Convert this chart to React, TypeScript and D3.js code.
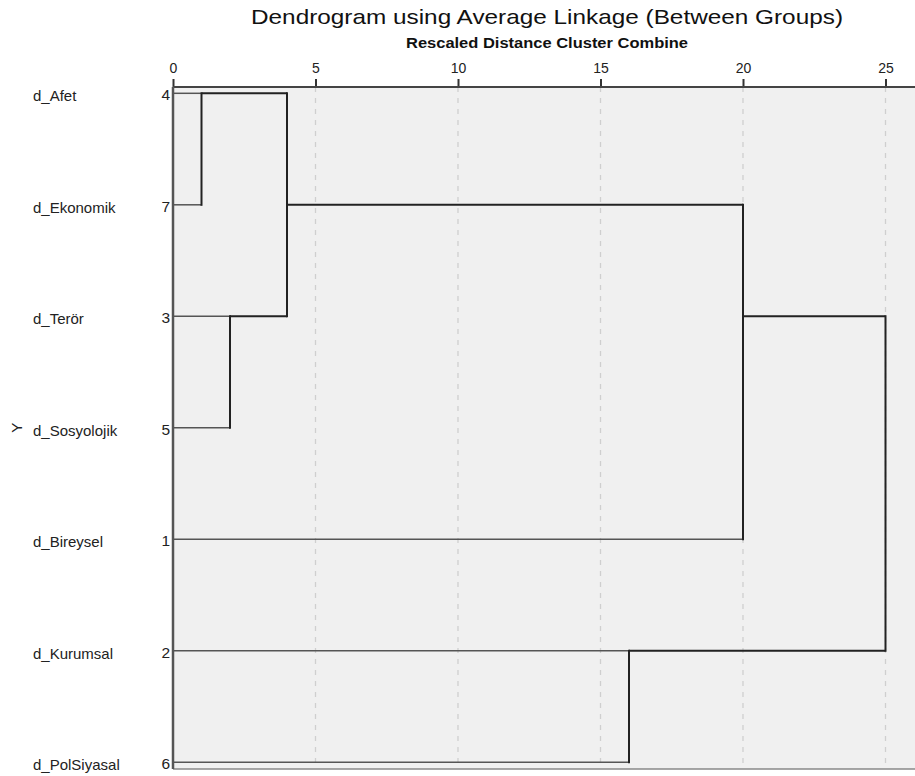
import React, { useEffect, useRef } from "react";
import * as d3 from "d3";

// leaves, top to bottom as SPSS draws them
const leafNames = ["d_Afet", "d_Ekonomik", "d_Terör", "d_Sosyolojik", "d_Bireysel", "d_Kurumsal", "d_PolSiyasal"];
const caseNumbers = [4, 7, 3, 5, 1, 2, 6];

// agglomeration steps: ids 0-6 are leaves, step i creates node 7 + i
const mergeLeft = [0, 2, 7, 5, 9, 11];
const mergeRight = [1, 3, 8, 6, 4, 10];
const mergeDistance = [1, 2, 4, 16, 20, 25];

const tickValues = [0, 5, 10, 15, 20, 25];

const App: React.FC = () => {
  const svgRef = useRef<SVGSVGElement | null>(null);

  useEffect(() => {
    if (!svgRef.current) return;
    const svg = d3.select(svgRef.current);
    svg.selectAll("*").remove();

    const width = 915;
    const height = 776;
    const plot = { left: 173, top: 87, right: 915, bottom: 769 };
    const font = "Arial, 'Liberation Sans', sans-serif";

    svg.attr("width", width).attr("height", height);

    const x = d3.scaleLinear().domain([0, 25]).range([173, 885.5]);
    const y = d3.scaleLinear().domain([0, leafNames.length - 1]).range([93.3, 762.3]);

    svg.append("rect").attr("width", width).attr("height", height).attr("fill", "#fff");

    svg
      .append("rect")
      .attr("x", plot.left)
      .attr("y", plot.top)
      .attr("width", plot.right - plot.left)
      .attr("height", plot.bottom - plot.top)
      .attr("fill", "#f0f0f0");

    // dashed grid
    svg
      .append("g")
      .selectAll("line")
      .data(tickValues.filter((d) => d > 0))
      .enter()
      .append("line")
      .attr("x1", (d) => x(d))
      .attr("x2", (d) => x(d))
      .attr("y1", plot.top)
      .attr("y2", plot.bottom)
      .attr("stroke", "#cfcfcf")
      .attr("stroke-width", 1.3)
      .attr("stroke-dasharray", "5,6");

    // top axis
    const axis = svg
      .append("g")
      .attr("transform", `translate(0,${plot.top})`)
      .call(d3.axisTop(x).tickValues(tickValues).tickSize(8).tickPadding(6));
    axis.select(".domain").remove();
    axis.selectAll(".tick line").attr("stroke", "#333").attr("stroke-width", 2);
    axis
      .selectAll(".tick text")
      .attr("font-family", font)
      .attr("font-size", 14)
      .attr("fill", "#222");

    svg
      .append("line")
      .attr("x1", plot.left)
      .attr("x2", plot.right)
      .attr("y1", plot.top)
      .attr("y2", plot.top)
      .attr("stroke", "#444")
      .attr("stroke-width", 2);
    svg
      .append("line")
      .attr("x1", plot.left)
      .attr("x2", plot.right)
      .attr("y1", plot.bottom)
      .attr("y2", plot.bottom)
      .attr("stroke", "#888")
      .attr("stroke-width", 1.5);

    // node rows and heights
    const row: number[] = leafNames.map((_, i) => i);
    const dist: number[] = leafNames.map(() => 0);
    mergeLeft.forEach((a, i) => {
      const b = mergeRight[i];
      row.push(Math.floor((row[a] + row[b]) / 2));
      dist.push(mergeDistance[i]);
    });

    const links = svg.append("g").attr("fill", "none");
    mergeLeft.forEach((a, i) => {
      const b = mergeRight[i];
      const xm = x(mergeDistance[i]);
      [a, b].forEach((c) => {
        const isLeaf = c < leafNames.length;
        links
          .append("line")
          .attr("x1", x(dist[c]))
          .attr("x2", xm)
          .attr("y1", y(row[c]))
          .attr("y2", y(row[c]))
          .attr("stroke", isLeaf ? "#555" : "#222")
          .attr("stroke-width", isLeaf ? 1.5 : 2);
      });
      links
        .append("line")
        .attr("x1", xm)
        .attr("x2", xm)
        .attr("y1", y(row[a]) - 1)
        .attr("y2", y(row[b]) + 1)
        .attr("stroke", "#222")
        .attr("stroke-width", 2);
    });

    // left axis line
    svg
      .append("line")
      .attr("x1", plot.left)
      .attr("x2", plot.left)
      .attr("y1", plot.top)
      .attr("y2", plot.bottom)
      .attr("stroke", "#555")
      .attr("stroke-width", 2.5);

    // case labels
    const labels = svg.append("g").attr("font-family", font).attr("fill", "#222");
    labels
      .selectAll("text.name")
      .data(leafNames)
      .enter()
      .append("text")
      .attr("class", "name")
      .attr("x", 33)
      .attr("y", (_, i) => y(i) + 8)
      .attr("font-size", 15)
      .text((d) => d);
    labels
      .selectAll("text.num")
      .data(caseNumbers)
      .enter()
      .append("text")
      .attr("class", "num")
      .attr("x", 170)
      .attr("y", (_, i) => y(i) + 7)
      .attr("font-size", 15.5)
      .attr("text-anchor", "end")
      .text((d) => d);

    svg
      .append("text")
      .attr("transform", `translate(22,${y(3)}) rotate(-90)`)
      .attr("text-anchor", "middle")
      .attr("font-family", font)
      .attr("font-size", 15)
      .attr("fill", "#222")
      .text("Y");

    svg
      .append("text")
      .attr("x", 251)
      .attr("y", 24)
      .attr("font-family", font)
      .attr("font-size", 21)
      .attr("textLength", 592)
      .attr("lengthAdjust", "spacingAndGlyphs")
      .attr("fill", "#111")
      .text("Dendrogram using Average Linkage (Between Groups)");

    svg
      .append("text")
      .attr("x", 406)
      .attr("y", 48)
      .attr("font-family", font)
      .attr("font-size", 14)
      .attr("font-weight", "bold")
      .attr("textLength", 282)
      .attr("lengthAdjust", "spacingAndGlyphs")
      .attr("fill", "#111")
      .text("Rescaled Distance Cluster Combine");
  }, []);

  return <svg ref={svgRef} style={{ position: "absolute", left: 0, top: 0 }}></svg>;
};

export default App;
